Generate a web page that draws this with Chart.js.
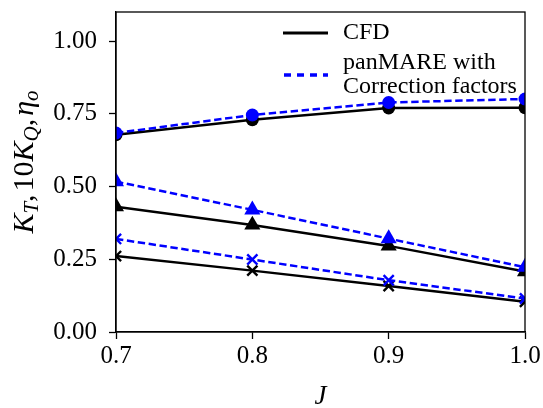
<!DOCTYPE html>
<html><head><meta charset="utf-8">
<script src="https://cdn.jsdelivr.net/npm/chart.js@4/dist/chart.umd.min.js"></script>
<style>html,body{margin:0;padding:0;background:#fff}</style>
</head><body>
<canvas id="c" width="543" height="408"></canvas>
<script>
// Advance ratio J and propeller coefficients (CFD vs. panMARE with correction factors)
const advanceRatio = [0.7, 0.8, 0.9, 1.0];
const etaCFD  = [0.678, 0.730, 0.770, 0.771];
const etaPan  = [0.684, 0.746, 0.789, 0.801];
const kq10CFD = [0.431, 0.368, 0.296, 0.208];
const kq10Pan = [0.517, 0.420, 0.321, 0.223];
const ktCFD   = [0.261, 0.211, 0.158, 0.104];
const ktPan   = [0.320, 0.249, 0.178, 0.115];
const xTicks = [0.7, 0.8, 0.9, 1.0];
const yTicks = [0.0, 0.25, 0.5, 0.75, 1.0];
const legendLabels = ['CFD', ['panMARE with', 'Correction factors']];

const SERIF = '"Liberation Serif", "Times New Roman", serif';
const BLUE = '#0000ff';
const BLACK = '#000000';

const pts = ys => ys.map((y, i) => ({x: advanceRatio[i], y}));

function series(data, color, style, dashed) {
  const isCross = style === 'crossRot';
  return {
    data: pts(data),
    borderColor: color,
    backgroundColor: color,
    borderWidth: 2.5,
    borderDash: dashed ? [7.4, 3.6] : [],
    pointStyle: style,
    pointRadius: style === 'circle' ? 6.5 : (style === 'triangle' ? 9.3 : 7.2),
    pointBorderWidth: isCross ? 2.4 : 0,
    pointBorderColor: color,
    pointBackgroundColor: color,
    clip: 0,
    tension: 0,
    fill: false
  };
}

// Blue series listed first so they paint on top of the black ones
const datasets = [
  series(etaPan, BLUE, 'circle', true),
  series(kq10Pan, BLUE, 'triangle', true),
  series(ktPan, BLUE, 'crossRot', true),
  series(etaCFD, BLACK, 'circle', false),
  series(kq10CFD, BLACK, 'triangle', false),
  series(ktCFD, BLACK, 'crossRot', false)
];

// Box around the plotting area
const framePlugin = {
  id: 'frame',
  afterDatasetsDraw(chart) {
    const {ctx, chartArea: a} = chart;
    ctx.save();
    ctx.strokeStyle = BLACK;
    ctx.lineWidth = 1.3;
    ctx.strokeRect(a.left, a.top, a.right - a.left, a.bottom - a.top);
    ctx.restore();
  }
};

// Legend drawn inside the plot near the top
const legendPlugin = {
  id: 'insideLegend',
  afterDraw(chart) {
    const {ctx} = chart;
    ctx.save();
    ctx.font = '24px ' + SERIF;
    ctx.fillStyle = BLACK;
    ctx.textBaseline = 'middle';
    ctx.textAlign = 'left';
    // CFD entry
    ctx.strokeStyle = BLACK;
    ctx.lineWidth = 3;
    ctx.beginPath(); ctx.moveTo(283, 33); ctx.lineTo(328, 33); ctx.stroke();
    ctx.fillText(legendLabels[0], 343, 33);
    // panMARE entry
    ctx.strokeStyle = BLUE;
    ctx.lineWidth = 3.5;
    ctx.setLineDash([7, 6]);
    ctx.beginPath(); ctx.moveTo(284, 75); ctx.lineTo(328, 75); ctx.stroke();
    ctx.setLineDash([]);
    ctx.fillText(legendLabels[1][0], 343, 63);
    ctx.fillText(legendLabels[1][1], 343, 87);
    ctx.restore();
  }
};

// Rotated y-axis title with subscripts: K_T, 10K_Q, eta_o
const yTitlePlugin = {
  id: 'yTitle',
  afterDraw(chart) {
    const {ctx} = chart;
    const M = 'px ' + SERIF;
    const parts = [
      {t: 'K', f: 'italic 30' + M, sub: false},
      {t: 'T', f: 'italic 21' + M, sub: true},
      {t: ',', f: '30' + M, sub: false, after: 3},
      {t: '10', f: '30' + M, sub: false},
      {t: 'K', f: 'italic 30' + M, sub: false},
      {t: 'Q', f: 'italic 21' + M, sub: true},
      {t: ',', f: '30' + M, sub: false, after: 3},
      {t: 'η', f: 'italic 30' + M, sub: false},
      {t: 'o', f: 'italic 21' + M, sub: true}
    ];
    ctx.save();
    let total = 0;
    parts.forEach(p => { ctx.font = p.f; p.w = ctx.measureText(p.t).width + (p.after || 0); total += p.w; });
    ctx.translate(33, 162);
    ctx.rotate(-Math.PI / 2);
    ctx.fillStyle = BLACK;
    ctx.textBaseline = 'alphabetic';
    ctx.textAlign = 'left';
    let x = -total / 2;
    parts.forEach(p => {
      ctx.font = p.f;
      ctx.fillText(p.t, x, p.sub ? 5 : 0);
      x += p.w;
    });
    ctx.restore();
  }
};

new Chart(document.getElementById('c'), {
  type: 'line',
  data: {datasets},
  plugins: [framePlugin, legendPlugin, yTitlePlugin],
  options: {
    responsive: false,
    animation: false,
    devicePixelRatio: 1,
    layout: {padding: {top: 12, right: 18, left: 0, bottom: 0}},
    plugins: {legend: {display: false}, tooltip: {enabled: false}},
    scales: {
      x: {
        type: 'linear',
        min: 0.7, max: 1.0,
        afterBuildTicks: s => { s.ticks = xTicks.map(v => ({value: v})); },
        afterFit: s => { s.height = 76; s.paddingLeft = 0; s.paddingRight = 0; },
        grid: {display: true, drawOnChartArea: false, drawTicks: true, tickLength: 7, tickWidth: 1.3, tickColor: BLACK},
        border: {display: true, color: BLACK, width: 1.3},
        ticks: {
          color: BLACK, padding: 2, maxRotation: 0,
          font: {family: SERIF, size: 25},
          callback: v => v.toFixed(1)
        },
        title: {
          display: true, text: 'J', color: BLACK,
          font: {family: SERIF, size: 27, style: 'italic'},
          padding: {top: 0, bottom: -5}
        }
      },
      y: {
        type: 'linear',
        min: 0, max: 1.1,
        afterBuildTicks: s => { s.ticks = yTicks.map(v => ({value: v})); },
        afterFit: s => { s.width = 116; s.paddingTop = 0; s.paddingBottom = 0; },
        grid: {display: true, drawOnChartArea: false, drawTicks: true, tickLength: 7, tickWidth: 1.3, tickColor: BLACK},
        border: {display: true, color: BLACK, width: 1.3},
        ticks: {
          color: BLACK, padding: 12,
          font: {family: SERIF, size: 25},
          callback: v => v.toFixed(2)
        }
      }
    }
  }
});
</script>
</body></html>
